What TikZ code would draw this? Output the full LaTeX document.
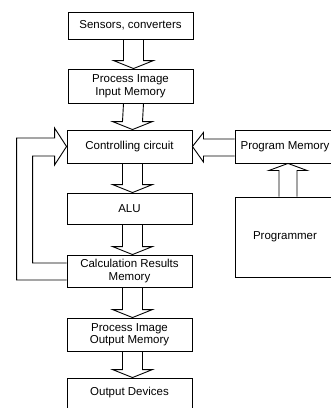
\documentclass[tikz,border=0pt]{standalone}
\usepackage{fontspec}
\setmainfont{Liberation Sans}
\usetikzlibrary{calc}
\tikzset{
  blk/.style={draw=black, line width=0.9pt, fill=white, minimum width=125pt, inner sep=0pt, align=center, font=\fontsize{11.5}{12.5}\selectfont},
  fat/.style={draw=black, line width=0.9pt, line join=miter},
  thin/.style={draw=black, line width=0.9pt}
}
\newcommand\fatdown[2]{%
  \draw[fat] ($(#1.south)+(-7,0)$) -- ($(#2.north)+(-7,-8)$) -- ($(#2.north)+(-17,-8)$) -- ($(#2.north)+(3,0)$) -- ($(#2.north)+(23,-8)$) -- ($(#2.north)+(13,-8)$) -- ($(#1.south)+(13,0)$);}
\begin{document}
\begin{tikzpicture}[x=1pt,y=-1pt]
\useasboundingbox (0,0) rectangle (331,408);
\clip (0,0) rectangle (331,408);
\fill[white] (0,0) rectangle (331,408);
\node[blk, minimum height=27pt] (sens) at (130.5,25.5) {Sensors, converters};
\node[blk, minimum height=34pt] (pin) at (130.5,86) {Process Image\\Input Memory};
\node[blk, minimum height=33pt] (ctrl) at (129.5,146.5) {Controlling circuit};
\node[blk, minimum height=31pt] (alu) at (129.5,208.5) {ALU};
\node[blk, minimum height=32pt] (calc) at (129.5,271) {Calculation Results\\Memory};
\node[blk, minimum height=33pt] (pout) at (129.5,334.5) {Process Image\\Output Memory};
\node[blk, minimum height=37pt, text height=8pt] (outd) at (129.5,396.5) {};
\node[font=\fontsize{11.5}{12.5}\selectfont] (outdt) at (129.5,392.5) {Output Devices};
\node[blk, minimum width=100pt, minimum height=33pt] (pmem) at (285,146.5) {Program Memory};
\node[blk, minimum width=100pt, minimum height=80pt] (prog) at (285,237) {Programmer};
\fatdown{sens}{pin}
\fatdown{pin}{ctrl}
\fatdown{ctrl}{alu}
\fatdown{alu}{calc}
\fatdown{calc}{pout}
\fatdown{pout}{outd}
% Programmer -> Program Memory
\draw[fat] ($(prog.north)+(-6,0)$) -- ($(pmem.south)+(-6,7)$) -- ($(pmem.south)+(-16,7)$) -- ($(pmem.south)+(3,0)$) -- ($(pmem.south)+(22,7)$) -- ($(pmem.south)+(12,7)$) -- ($(prog.north)+(12,0)$);
% Program Memory -> Controlling circuit
\draw[fat] ($(pmem.west)+(0,-7.5)$) -- ($(ctrl.east)+(11,-7.5)$) -- ($(ctrl.east)+(11,-14)$) -- (ctrl.east) -- ($(ctrl.east)+(11,15.5)$) -- ($(ctrl.east)+(11,9.5)$) -- ($(pmem.west)+(0,9.5)$);
% feedback Calculation Results -> Controlling circuit
\draw[fat] ($(calc.west)+(0,9)$) -- ($(calc.west)+(-50,9)$) -- ($(ctrl.west)+(-50,-8.5)$) -- ($(ctrl.west)+(-12,-8.5)$) -- ($(ctrl.west)+(-12,-18.5)$) -- (ctrl.west) -- ($(ctrl.west)+(-12,18.5)$) -- ($(ctrl.west)+(-12,9.5)$) -- ($(ctrl.west)+(-34,9.5)$) -- ($(calc.west)+(-34,-8)$) -- ($(calc.west)+(0,-8)$);
\end{tikzpicture}
\end{document}
